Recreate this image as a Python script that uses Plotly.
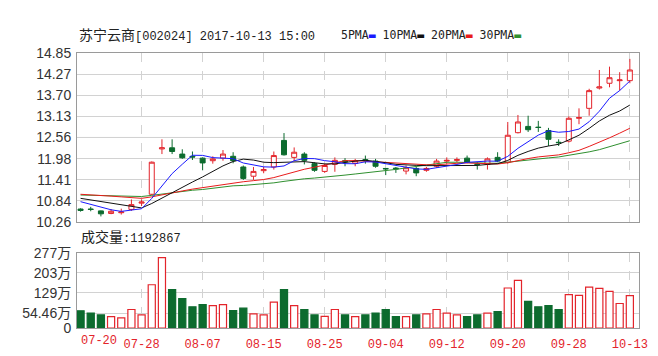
import plotly.graph_objects as go

# ---------------- data ----------------
dates = ["07-20", "07-21", "07-24", "07-25", "07-26", "07-27", "07-28",
         "07-31", "08-01", "08-02", "08-03", "08-04", "08-07",
         "08-08", "08-09", "08-10", "08-11", "08-14", "08-15",
         "08-16", "08-17", "08-18", "08-21", "08-24", "08-25",
         "08-28", "08-29", "08-30", "08-31", "09-01", "09-04",
         "09-05", "09-06", "09-07", "09-08", "09-11", "09-12",
         "09-13", "09-14", "09-15", "09-18", "09-19", "09-20",
         "09-21", "09-22", "09-25", "09-26", "09-27", "09-28",
         "09-29", "10-09", "10-10", "10-11", "10-12", "10-13"]

opens = [10.62, 10.62, 10.57, 10.50, 10.52, 10.61, 10.78, 11.02, 12.25, 12.28,
         12.11, 12.05, 12.00, 11.93, 12.00, 12.05, 11.76, 11.51, 11.66, 11.76,
         12.48, 12.02, 12.11, 11.85, 11.64, 11.83, 11.93, 11.86, 11.96, 11.92,
         11.72, 11.73, 11.65, 11.72, 11.67, 11.78, 11.92, 11.94, 12.00, 11.84,
         11.83, 12.02, 11.89, 12.69, 12.86, 12.84, 12.75, 12.43, 12.46, 13.08,
         13.35, 13.90, 14.03, 14.10, 14.10]
highs = [10.64, 10.68, 10.58, 10.62, 10.63, 10.88, 10.88, 11.91, 12.51, 12.51,
         12.24, 12.18, 12.02, 12.05, 12.22, 12.16, 11.80, 11.76, 11.76, 12.18,
         12.68, 12.29, 12.16, 11.89, 11.85, 12.02, 12.00, 11.98, 12.07, 11.98,
         11.73, 11.76, 11.80, 11.76, 11.76, 11.98, 12.02, 12.02, 12.07, 11.89,
         12.02, 12.16, 12.98, 13.17, 13.15, 13.01, 12.82, 12.51, 13.13, 13.35,
         13.88, 14.39, 14.48, 14.33, 14.69]
lows = [10.55, 10.56, 10.42, 10.48, 10.47, 10.57, 10.70, 11.00, 12.11, 12.11,
        11.98, 11.95, 11.67, 11.85, 11.93, 11.86, 11.41, 11.41, 11.59, 11.69,
        12.07, 11.92, 11.83, 11.63, 11.60, 11.63, 11.78, 11.78, 11.85, 11.74,
        11.54, 11.60, 11.56, 11.51, 11.63, 11.74, 11.85, 11.89, 11.86, 11.69,
        11.69, 11.89, 11.85, 12.67, 12.71, 12.71, 12.33, 12.33, 12.42, 12.92,
        13.15, 13.86, 13.92, 13.83, 14.03]
closes = [10.58, 10.61, 10.49, 10.56, 10.54, 10.74, 10.81, 11.89, 12.28, 12.18,
          12.01, 12.03, 11.87, 11.98, 12.11, 11.93, 11.45, 11.64, 11.69, 12.07,
          12.09, 12.16, 11.94, 11.67, 11.80, 11.94, 11.90, 11.93, 11.93, 11.78,
          11.71, 11.71, 11.74, 11.60, 11.72, 11.92, 11.94, 11.96, 11.89, 11.83,
          11.98, 11.92, 12.62, 12.98, 12.77, 12.83, 12.51, 12.42, 13.08, 13.10,
          13.83, 13.93, 14.18, 14.12, 14.39]

# volume in 万
volumes = [63.5, 55, 48, 42, 37, 68, 48, 159, 259, 141,
           108, 78, 86, 82, 86, 64, 73, 52, 48, 95,
           141, 82, 68, 48, 43, 68, 48, 42, 48, 55,
           68, 42, 42, 48, 52, 68, 55, 48, 42, 48,
           55, 60, 147, 175, 98, 78, 82, 68, 123, 120,
           150, 146, 135, 90, 119.29]

# moving-average values before a full window of visible closes exists
ma5_head = [10.82, 10.74, 10.66, 10.60]
ma10_head = [10.91, 10.87, 10.82, 10.78, 10.74, 10.70, 10.65, 10.77, 10.92]
ma20_head = [11.02, 11.01, 10.99, 10.97, 10.95, 10.93, 10.91, 10.95, 11.01, 11.07,
             11.11, 11.16, 11.20, 11.25, 11.30, 11.34, 11.36, 11.39, 11.42]
ma30_head = [11.00, 10.99, 10.99, 10.98, 10.97, 10.97, 10.96, 10.99, 11.03, 11.06,
             11.10, 11.13, 11.15, 11.19, 11.22, 11.25, 11.26, 11.28, 11.30, 11.33,
             11.37, 11.41, 11.44, 11.46, 11.48, 11.51, 11.54, 11.57, 11.60]

price_ticks = [10.26, 10.84, 11.41, 11.98, 12.56, 13.13, 13.70, 14.27, 14.85]
vol_ticks = [0, 54.46, 129, 203, 277]
vol_ticktext = ["0", "54.46万", "129万", "203万", "277万"]
label_every = 6

title_name = "苏宁云商"
title_rest = "[002024] 2017-10-13 15:00"
vol_title = "成交量"
vol_last = "1192867"

# ---------------- derived ----------------
x = list(range(len(dates)))


def moving(head, n):
    out = list(head)
    for i in range(n - 1, len(closes)):
        out.append(sum(closes[i - n + 1:i + 1]) / n)
    return out


ma5 = moving(ma5_head, 5)
ma10 = moving(ma10_head, 10)
ma20 = moving(ma20_head, 20)
ma30 = moving(ma30_head, 30)

RED = "#e3242b"
GREEN = "#0c6b2e"
C5, C10, C20, C30 = "#1a1aff", "#111111", "#e81c1c", "#2f8f2f"
GRID = "#d2d2d2"
BORDER = "#9a9a9a"

up = [c > o for o, c in zip(opens, closes)]
tick_idx = [i for i in x if i > 0 and i % label_every == 0]
tick_txt = [dates[i] for i in tick_idx]

fig = go.Figure()
fig.add_trace(go.Candlestick(
    x=x, open=opens, high=highs, low=lows, close=closes,
    increasing=dict(line=dict(color=RED, width=1), fillcolor="white"),
    decreasing=dict(line=dict(color=GREEN, width=1), fillcolor=GREEN),
    whiskerwidth=0, showlegend=False, hoverinfo="skip", xaxis="x", yaxis="y"))
for vals, col in [(ma30, C30), (ma20, C20), (ma10, C10), (ma5, C5)]:
    fig.add_trace(go.Scatter(x=x, y=vals, mode="lines", line=dict(color=col, width=1),
                             showlegend=False, hoverinfo="skip", xaxis="x", yaxis="y"))

fig.add_trace(go.Bar(
    x=x, y=volumes, width=0.7,
    marker=dict(color=["white" if u else GREEN for u in up],
                line=dict(color=[RED if u else GREEN for u in up], width=1.2)),
    showlegend=False, hoverinfo="skip", xaxis="x2", yaxis="y2"))

xr = [-0.35, len(dates) - 0.1]
num_font = dict(family="Liberation Sans, Noto Sans CJK SC", size=14, color="#333333")
common_x = dict(range=xr, tickvals=tick_idx, showgrid=True, gridcolor=GRID, griddash="dash",
                gridwidth=1, showline=True, mirror=True, linecolor=BORDER, linewidth=1,
                ticks="", zeroline=False)
common_y = dict(showgrid=True, gridcolor=GRID, gridwidth=1, showline=True, mirror=True,
                linecolor=BORDER, linewidth=1, ticks="", zeroline=False, tickfont=num_font,
                ticklabelstandoff=2)

fig.update_layout(
    width=658, height=356,
    margin=dict(l=69, r=27, t=45, b=30),
    paper_bgcolor="white", plot_bgcolor="white",
    showlegend=False,
    xaxis=dict(domain=[0, 1], anchor="y", showticklabels=False,
               rangeslider=dict(visible=False), **common_x),
    yaxis=dict(domain=[0.3843, 1], anchor="x", range=[price_ticks[0], price_ticks[-1]],
               tickvals=price_ticks, ticktext=[f"{v:.2f}" for v in price_ticks], **common_y),
    xaxis2=dict(domain=[0, 1], anchor="y2", ticktext=tick_txt,
                tickfont=dict(family="Liberation Mono", size=12, color=RED),
                ticklabelstandoff=5, **common_x),
    yaxis2=dict(domain=[0, 0.274], anchor="x2", range=[vol_ticks[0], vol_ticks[-1]],
                tickvals=vol_ticks, ticktext=vol_ticktext, **common_y),
    shapes=[dict(type="line", xref="x domain", yref="y", x0=0, x1=1,
                 y0=price_ticks[4], y1=price_ticks[4], line=dict(color="#a8a8a8", width=1),
                 layer="below")],
)

mono_cjk = "Liberation Mono, Noto Sans CJK SC"
legend_txt = (f'5PMA<span style="color:{C5}">▬</span> 10PMA<span style="color:{C10}">▬</span> '
              f'20PMA<span style="color:{C20}">▬</span> 30PMA<span style="color:{C30}">▬</span>')
fig.add_annotation(text=f'<span style="font-size:14px">{title_name}</span>{title_rest}',
                   xref="paper", yref="paper", x=0, y=1, xanchor="left", yanchor="middle",
                   yshift=18, showarrow=False, font=dict(family=mono_cjk, size=12, color="#222222"))
fig.add_annotation(text=legend_txt, xref="paper", yref="paper", x=0.466, y=1,
                   xanchor="left", yanchor="middle", yshift=18, showarrow=False,
                   font=dict(family="DejaVu Sans Mono, Noto Sans CJK SC", size=11.5, color="#222222"))
fig.add_annotation(text=f'<span style="font-size:14px">{vol_title}</span>:{vol_last}',
                   xref="paper", yref="paper", x=0, y=0.274, xanchor="left", yanchor="middle",
                   xshift=2, yshift=15, showarrow=False,
                   font=dict(family=mono_cjk, size=12, color="#222222"))
fig.add_annotation(text=dates[0], xref="x2", yref="paper", x=0, y=0, xanchor="left",
                   yanchor="top", xshift=-2, yshift=-4, showarrow=False,
                   font=dict(family="Liberation Mono", size=12, color=RED))

fig.write_html("out.html")
